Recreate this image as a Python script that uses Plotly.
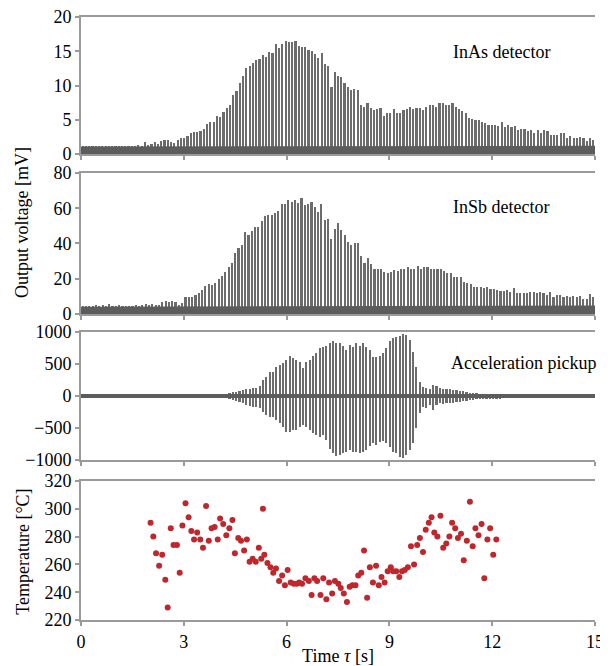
import numpy as np
import plotly.graph_objects as go

# ---------------- data ----------------
inas_peaks = [1.2, 1.2, 1.1, 1.2, 1.2, 1.1, 1.2, 1.2, 1.2, 1.1, 1.2, 1.1, 1.2, 1.1, 1.2, 1.2, 1.1, 1.3, 1.2, 1.7,
              1.3, 1.5, 1.8, 1.5, 1.9, 2.0, 2.0, 1.8, 1.6, 2.1, 2.3, 2.4, 2.6, 3.1, 3.2, 3.2, 3.4, 3.7, 4.4, 4.6,
              4.7, 5.6, 5.4, 6.1, 6.7, 7.1, 8.6, 9.2, 10.4, 11.4, 12.5, 12.8, 13.3, 13.7, 13.8, 14.5, 14.1, 14.9, 14.8, 16.0,
              15.5, 16.1, 16.5, 16.3, 16.3, 16.5, 15.8, 15.6, 15.6, 15.2, 15.1, 14.6, 14.0, 14.8, 13.2, 12.9, 9.8, 11.9, 11.4, 11.2,
              10.4, 9.8, 9.3, 9.5, 9.3, 7.2, 6.9, 7.5, 6.7, 6.4, 6.5, 6.7, 5.6, 6.0, 6.0, 6.5, 6.0, 6.0, 6.4, 6.5,
              6.9, 6.5, 6.7, 6.7, 6.4, 6.8, 7.1, 7.1, 6.8, 7.4, 7.4, 7.1, 7.1, 7.5, 6.9, 6.5, 6.3, 6.0, 5.2, 5.1,
              5.0, 4.9, 4.6, 4.5, 4.2, 4.2, 4.2, 4.1, 4.7, 4.0, 4.2, 4.0, 4.1, 3.5, 3.6, 3.6, 3.3, 3.5, 3.1, 3.5,
              3.0, 3.5, 3.3, 2.8, 2.8, 2.8, 3.0, 3.0, 2.4, 2.7, 2.4, 2.3, 2.5, 2.4, 1.9, 2.3, 2.1]

insb_peaks = [4.6, 4.5, 4.7, 4.5, 5.0, 4.8, 5.0, 4.6, 5.8, 4.8, 4.6, 4.9, 4.7, 4.6, 4.8, 4.6, 4.9, 4.8, 5.3, 5.5,
              5.2, 5.6, 5.3, 5.0, 7.0, 7.2, 7.0, 7.2, 6.6, 5.1, 6.4, 9.8, 9.6, 9.8, 10.8, 12.0, 13.6, 15.8, 17.0, 16.4,
              17.7, 19.6, 21.5, 24.0, 26.8, 29.0, 34.7, 37.2, 39.0, 46.6, 44.7, 47.2, 49.4, 49.4, 52.8, 55.5, 56.0, 56.0, 57.4, 58.5,
              62.6, 62.6, 64.5, 63.8, 64.5, 63.0, 66.0, 61.7, 62.6, 63.6, 60.8, 57.9, 62.3, 53.6, 54.0, 42.8, 48.5, 51.7, 47.5, 44.7,
              41.0, 39.0, 40.4, 40.4, 32.8, 29.0, 31.5, 28.3, 25.3, 25.3, 25.3, 23.8, 23.0, 24.0, 24.9, 24.5, 25.8, 25.3, 26.4, 25.7,
              25.3, 27.2, 25.3, 26.4, 26.4, 25.3, 25.8, 25.8, 25.3, 24.5, 23.0, 23.4, 21.1, 21.1, 21.1, 18.1, 17.7, 17.0, 15.5, 15.1,
              15.1, 14.7, 15.1, 14.0, 14.0, 13.6, 13.2, 12.8, 13.6, 12.5, 14.7, 11.7, 11.7, 12.1, 12.1, 12.5, 12.5, 11.7, 12.5, 12.1,
              10.9, 12.5, 9.8, 10.6, 10.6, 9.8, 10.2, 9.8, 10.2, 9.8, 10.2, 8.3, 8.7, 11.3, 9.8]

accel_pos = [25] * 44 + [40, 68, 68, 84, 94, 104, 104, 120, 120, 157, 250, 303, 381, 381, 449, 486, 522, 564, 627, 590,
                         564, 538, 433, 538, 564, 627, 668, 747, 773, 783, 825, 867, 836, 825, 783, 721, 799, 773, 825, 783,
                         836, 773, 721, 616, 616, 627, 668, 747, 867, 903, 919, 940, 971, 956, 877, 695, 460, 225, 146, 120,
                         104, 172, 157, 120, 104, 104, 104, 94, 94, 84, 84, 68, 52, 50, 42, 35, 35, 35, 35, 35, 35, 35] + [25] * 28
accel_neg = [25] * 44 + [40, 63, 73, 89, 115, 141, 157, 178, 178, 193, 245, 298, 324, 324, 376, 428, 480, 559, 559, 533,
                         533, 491, 454, 480, 533, 574, 611, 637, 611, 689, 820, 888, 940, 924, 898, 872, 836, 872, 872, 898,
                         872, 836, 783, 741, 768, 715, 700, 741, 794, 872, 888, 950, 961, 924, 846, 741, 507, 261, 178, 193,
                         141, 219, 141, 115, 125, 115, 104, 104, 89, 89, 73, 73, 63, 60, 52, 42, 42, 42, 42, 42, 42, 42] + [25] * 28

band_t = [0, 5, 10, 15]
inas_band = [1.1, 1.1, 1.2, 1.2]
insb_band = [4.1, 4.3, 4.6, 4.8]
accel_band = [30, 30, 30, 30]

temp_t = [2.03, 2.11, 2.19, 2.28, 2.37, 2.46, 2.53, 2.62, 2.70, 2.80, 2.88, 2.96, 3.05, 3.14, 3.22, 3.30, 3.39, 3.48,
          3.56, 3.65, 3.73, 3.81, 3.90, 3.99, 4.06, 4.15, 4.24, 4.33, 4.42, 4.49, 4.59, 4.67, 4.76, 4.84, 4.92, 5.01,
          5.10, 5.19, 5.26, 5.31, 5.35, 5.44, 5.53, 5.61, 5.69, 5.78, 5.87, 5.95, 6.03, 6.12, 6.21, 6.30, 6.37,
          6.45, 6.55, 6.65, 6.73, 6.81, 6.89, 6.99, 7.07, 7.16, 7.24, 7.33, 7.41, 7.51, 7.58, 7.67, 7.76, 7.84, 7.92,
          8.01, 8.09, 8.18, 8.26, 8.35, 8.43, 8.52, 8.61, 8.69, 8.77, 8.86, 8.95, 9.04, 9.11, 9.20, 9.29, 9.37, 9.45,
          9.54, 9.72, 9.63, 9.81, 9.89, 9.98, 10.06, 10.15, 10.23, 10.31, 10.40, 10.49, 10.57, 10.66, 10.75, 10.83,
          10.92, 11.00, 11.09, 11.17, 11.26, 11.35, 11.43, 11.51, 11.60, 11.69, 11.77, 11.86, 11.94, 12.03, 12.12]
temp_v = [290, 280, 268, 259, 267, 249, 229, 286, 274, 274, 254, 288, 304, 294, 284, 278, 283, 278,
          272, 302, 277, 286, 287, 278, 293, 289, 281, 286, 292, 268, 279, 277, 270, 278, 262, 264,
          262, 272, 264, 300, 267, 261, 258, 254, 257, 248, 252, 245, 256, 247, 246, 246, 247,
          246, 250, 248, 238, 250, 248, 238, 250, 235, 247, 239, 248, 246, 243, 239, 233, 244, 245,
          245, 252, 254, 270, 236, 258, 247, 259, 245, 251, 247, 255, 258, 255, 255, 251, 255, 256,
          258, 260, 273, 274, 279, 269, 285, 290, 294, 283, 280, 295, 272, 275, 280, 290,
          286, 279, 282, 263, 277, 305, 273, 286, 281, 289, 250, 278, 286, 267, 278]

xticks = [0, 3, 6, 9, 12, 15]

# ---------------- figure ----------------
BAR = "#6c6c6c"
BAND = "#5c5c5c"
AX = "#9a9a9a"
FONT = "Liberation Serif, Times New Roman, serif"

t_inas = np.linspace(0.05, 14.95, len(inas_peaks))
t_insb = np.linspace(0.05, 14.95, len(insb_peaks))
t_acc = np.linspace(0.05, 14.95, len(accel_pos))
pos = np.array(accel_pos, dtype=float)
neg = np.array(accel_neg, dtype=float)

fig = go.Figure()
W = 0.062
fig.add_trace(go.Bar(x=t_inas, y=inas_peaks, width=W, marker=dict(color=BAR, line=dict(width=0)),
                     xaxis="x", yaxis="y", showlegend=False))
fig.add_trace(go.Scatter(x=band_t, y=inas_band, fill="tozeroy", mode="lines", line=dict(color=BAND, width=0),
                         fillcolor=BAND, xaxis="x", yaxis="y", showlegend=False))
fig.add_trace(go.Bar(x=t_insb, y=insb_peaks, width=W, marker=dict(color=BAR, line=dict(width=0)),
                     xaxis="x2", yaxis="y2", showlegend=False))
fig.add_trace(go.Scatter(x=band_t, y=insb_band, fill="tozeroy", mode="lines", line=dict(color=BAND, width=0),
                         fillcolor=BAND, xaxis="x2", yaxis="y2", showlegend=False))
fig.add_trace(go.Bar(x=t_acc, y=pos + neg, base=-neg, width=W, marker=dict(color=BAR, line=dict(width=0)),
                     xaxis="x3", yaxis="y3", showlegend=False))
fig.add_trace(go.Scatter(x=band_t + band_t[::-1], y=accel_band + [-v for v in accel_band[::-1]], fill="toself",
                         mode="lines", line=dict(color=BAND, width=0), fillcolor=BAND,
                         xaxis="x3", yaxis="y3", showlegend=False))
fig.add_trace(go.Scatter(x=temp_t, y=temp_v, mode="markers", marker=dict(color="#c0272d", size=6),
                         xaxis="x4", yaxis="y4", showlegend=False))

dom = {1: [0.7728, 1.0], 2: [0.5075, 0.7413], 3: [0.2653, 0.4776], 4: [0.0, 0.2305]}
yr = {1: [0, 20], 2: [0, 80], 3: [-1000, 1000], 4: [220, 320]}
ydt = {1: 5, 2: 20, 3: 500, 4: 20}

# page body has an 8px margin, so the figure is 600x658 and fills the 608x666 window
layout = dict(
    width=600, height=658,
    margin=dict(l=73, r=13, t=9, b=46, autoexpand=False),
    plot_bgcolor="white", paper_bgcolor="white",
    font=dict(family=FONT, size=18, color="black"),
    bargap=0,
)
for k in range(1, 5):
    xs = "xaxis" if k == 1 else f"xaxis{k}"
    ys = "yaxis" if k == 1 else f"yaxis{k}"
    layout[xs] = dict(domain=[0, 1], anchor="y" if k == 1 else f"y{k}", range=[0, 15],
                      tickvals=xticks, showticklabels=(k == 4), ticks="outside", ticklen=4, tickwidth=1.5,
                      tickcolor=AX, showline=True, linecolor=AX, linewidth=2, mirror=True,
                      showgrid=False, zeroline=False, automargin=False, ticklabeloverflow="allow")
    layout[ys] = dict(domain=dom[k], anchor="x" if k == 1 else f"x{k}", range=yr[k], dtick=ydt[k],
                      tick0=yr[k][0], ticks="outside", ticklen=4, tickwidth=1.5, tickcolor=AX,
                      showline=True, linecolor=AX, linewidth=2, showgrid=False, zeroline=False,
                      automargin=False, ticklabeloverflow="allow")
layout["xaxis4"]["title"] = dict(text="Time <i>τ</i> [s]", standoff=0, font=dict(size=18))
fig.update_layout(**layout)

anns = [
    dict(text="InAs detector", x=10.8, y=14.9, xref="x", yref="y", xanchor="left", yanchor="middle"),
    dict(text="InSb detector", x=10.8, y=60.7, xref="x2", yref="y2", xanchor="left", yanchor="middle"),
    dict(text="Acceleration pickup", x=10.75, y=515, xref="x3", yref="y3", xanchor="left", yanchor="middle"),
    dict(text="Output voltage [mV]", x=-0.115, y=0.66, xref="paper", yref="paper", textangle=-90,
         xanchor="center", yanchor="middle"),
    dict(text="Temperature [°C]", x=-0.113, y=0.113, xref="paper", yref="paper", textangle=-90,
         xanchor="center", yanchor="middle"),
]
for a in anns:
    a.update(showarrow=False, font=dict(family=FONT, size=18, color="black"))
fig.update_layout(annotations=anns)

fig.write_html("out.html")
